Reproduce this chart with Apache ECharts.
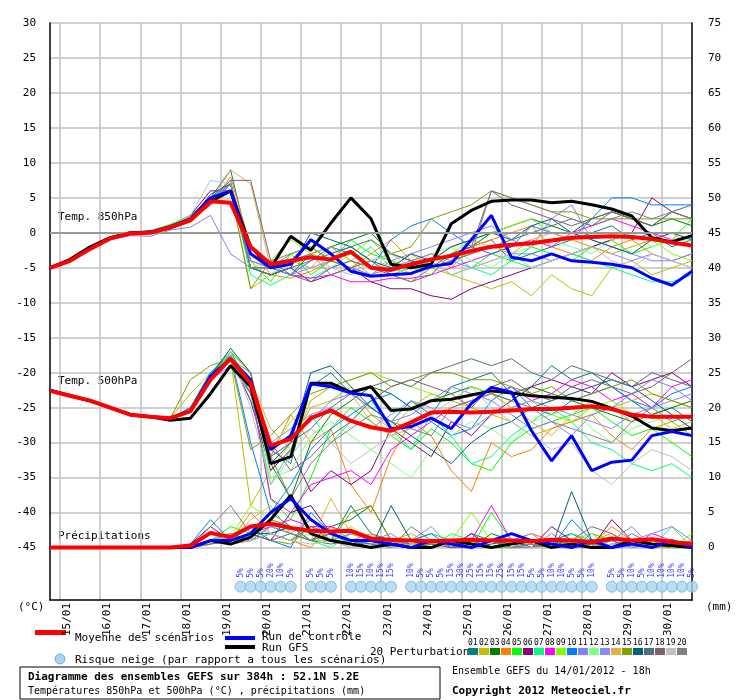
<!DOCTYPE html>
<html>
<head>
  <meta charset="utf-8">
</head>
<body style="margin:0;background:#fff">
  <div id="container" style="width:740px;height:700px"></div>
  <script src="https://cdn.jsdelivr.net/npm/echarts@6/dist/echarts.min.js"></script>
  <script>
    // 12h steps from 14/01 18h, 0..384h
    var hours = [];
    for (var h = 0; h <= 384; h += 12) hours.push(h);
    var dayHours = [6, 30, 54, 78, 102, 126, 150, 174, 198, 222, 246, 270, 294, 318, 342, 366];
    var dayLabels = ['15/01','16/01','17/01','18/01','19/01','20/01','21/01','22/01','23/01','24/01','25/01','26/01','27/01','28/01','29/01','30/01'];
    var labelHours = dayHours.map(function (v) { return v + 4; });
    var leftTicks = [-45,-40,-35,-30,-25,-20,-15,-10,-5,0,5,10,15,20,25,30];
    var rightTicks = [0,5,10,15,20,25,30,35,40,45,50,55,60,65,70,75];

    var pertColors = ['#008080','#c0c000','#008000','#ff8000','#00ff00','#800080','#00ff80','#ff00ff','#80ff00','#0080ff',
                      '#8080ff','#80ff80','#8888ff','#e0b040','#80a000','#006080','#507080','#806070','#c0c0c0','#808080'];

    var mean850 = [-5,-4,-2.3,-0.8,-0.1,0,0.8,1.8,4.5,4.3,-2, -4.5,-4,-3.5,-3.8,-2.7,-5,-5.3,-4.5,-3.8,-3.3,-2.6, -2,-1.7,-1.5,-1.1,-0.7,-0.6,-0.5,-0.6,-0.9,-1.4,-1.8];
    var ctrl850 = [-5,-4,-2.3,-0.8,-0.1,0.1,0.9,2,5,6,-3, -5,-4.5,-1,-3,-5.5,-6.2,-6,-5.8,-4.8,-4.4,-1, 2.5,-3.5,-4,-3,-4,-4.2,-4.5,-5,-6.5,-7.5,-5.5];
    var gfs850 = [-5,-3.8,-2,-0.7,0,0.1,0.7,1.8,4.5,6,-2, -5,-0.5,-2.5,1.4,5,2,-4.5,-5,-4.5,1.3,3.2, 4.5,4.7,4.7,4.3,4.5,4,3.4,2.4,-0.7,-1.3,-0.4];
    var pert850 = [
      [-5,-4,-2.2,-0.7,0,0.2,1,2.2,5,9,-3, -5,-4,-1,-3,-2,-4,-6,-5,-4,-3,-2, -1,-4,-3,-2,-1,0,1,-1,0,-2,-1],
      [-5,-4.1,-2.4,-0.9,-0.2,0,0.6,1.5,4,6,-8, -6,-4,-5,-2,-4,-6,-5,-3,-5,-6,-7, -8,-7,-9,-6,-8,-9,-5,-4,-6,-5,-4],
      [-5,-4,-2.3,-0.8,0,0.1,0.9,2,4.5,6,-5, -5,-6,-3,-2,-1,0,-3,-4,-5,-3,-2, 0,1,2,1,0,2,3,2,1,2,1],
      [-5,-3.9,-2.2,-0.8,-0.1,0,0.8,1.7,4,8,-2, -6,-6.5,-5.5,-4,-5,-3,-1,-4,-3,-5,-2, -1,0,1,-2,-3,-4,-2,-1,-3,-4,-3],
      [-5,-4,-2.3,-0.7,0,0.3,1.2,2.5,5,7,-4, -7,-3,-6,-4,-1,-3,-4,-5,-4,-6,-5, -3,-4,-2,-3,-4,-2,-1,-3,-2,-1,2],
      [-5,-4.1,-2.4,-0.8,-0.1,0.1,0.9,2.5,6,6,-5, -6,-5,-7,-6,-5,-7,-8,-8,-9,-9.5,-8, -7,-6,-5,-4,-3,-2,-1,0,5,3,2],
      [-5,-4,-2.2,-0.7,0,0.1,0.8,2,5,7,-6, -7.5,-6,-6.5,-5,-4,-2,-5,-6,-4,-3,-5, -6,-4,-5,-4,-3,-4,-5,-6,-7,-7,-6],
      [-5,-4,-2.3,-0.9,-0.2,0,0.7,1.9,4,7,-4, -5,-6,-6.5,-6,-7,-7,-6.5,-6.5,-6,-5,-4, -3,-2,-1,-2,0,1,2,1,0,-1,-0.5],
      [-5,-4,-2.2,-0.7,0.1,0.2,1,2.3,5,6,-5, -4,-1,-3,-4,-3,-1,-4,-5,-6,-3,-1, 0,1,2,0,-1,-2,-3,-2,-1,-3,-4],
      [-5,-4,-2.3,-0.8,0,0.1,0.8,2,4.5,7,-3, -5,-6,-4,-2,-3,-5,-1,1,2,0,-2, -3,-2,1,0,-1,2,5,5,4,4,4],
      [-5,-4,-2.4,-1,-0.4,-0.5,0.4,0.8,2.5,-3,-5, -5,-3,-2,-4,-5,-6,-4,-3,-2,-1,0, 1,-1,-2,2,4,-1,-2,-3,-4,-4,-3],
      [-5,-4,-2.3,-0.8,0,0.1,0.9,2.1,5,6,-5, -6,-4,-3,-5,-3,-4,-6,-5,-3,-2,-4, -5,-3,-2,-1,-2,-3,-1,0,-2,-1,-1],
      [-5,-4,-2.3,-0.8,0,0.1,0.8,2,4.5,7,-4, -5,-6,-5,-4,-5,-6,-5,-4,-3,-4,-5, -4,-3,-3,-4,-3,-2,-3,-4,-3,-4,-5],
      [-5,-4,-2.2,-0.7,0,0.2,1,2.3,4.5,9,7, -5,-4,-3,-2,-4,-5,-4,-6,-4,-2,-1, -2,-3,-1,0,-1,-2,-3,-2,-1,0,-2],
      [-5,-4,-2.3,-0.8,0,0.1,0.9,2.2,5,6,-8, -4,-3,-2,-4,-5,-4,-3,-2,2,3,4, 6,5,4,3,3,2,2,2,2,2,2],
      [-5,-4,-2.3,-0.8,0,0.1,0.8,2,5.5,7,-5, -6,-5,0,-1,-2,-4,-5,-3,-4,-2,-1, 0,-1,1,2,0,-1,-2,-3,-1,0,-1],
      [-5,-4,-2.3,-0.8,0,0.1,0.8,1.9,5,6,-5, -6,-5,-4,-3,-2,-1,-3,-4,-5,-4,-3, -2,-1,0,1,2,1,3,2,1,3,4],
      [-5,-4,-2.3,-0.8,0,0.1,0.8,2,5,7.5,7.5, -4,-6,-7,-5,-4,-5,-6,-7,-6,-3,-2, 6,4,3,2,1,2,3,2,1,3,2],
      [-5,-4,-2.3,-0.7,0,0.2,1,2.5,7.5,7,-2, -5,-4,-3,-5,-6,-4,-3,-5,-4,-6,-5, -4,-3,-5,-4,-3,-2,-4,-5,-3,-4,-5],
      [-5,-4,-2.3,-0.8,0,0.1,0.9,2,4.5,7.5,-5, -5,-4,-3,-6,-5,-4,-6,-7,-5,-4,-3, 6,5,4,3,2,1,2,3,2,3,2]
    ];

    var mean500 = [-22.6,-23.3,-24,-25,-26,-26.3,-26.5,-25.5,-21,-18,-21.5, -30.4,-29.5,-26.5,-25.4,-26.9,-27.8,-28.3,-27.1,-25.7,-25.6,-25.7, -25.6,-25.4,-25.2,-25.2,-25,-24.8,-25.2,-26,-26.3,-26.3,-26.3];
    var ctrl500 = [-22.5,-23.3,-24,-25,-26,-26.3,-26.5,-25.5,-20.5,-18,-21, -31,-29,-21.6,-22,-22.9,-23.3,-28,-27.7,-26.5,-28,-24.4, -22.1,-22.8,-28.3,-32.6,-29,-34,-32.8,-32.5,-29,-28.4,-29];
    var gfs500 = [-22.5,-23.3,-24,-25,-26,-26.3,-26.8,-26.5,-23,-19,-22, -33,-32,-21.5,-21.5,-22.8,-22,-25.4,-25.2,-24,-23.8,-23.2, -22.6,-22.9,-23.3,-23.5,-23.7,-24.1,-25.1,-26.2,-27.9,-28.3,-27.9];
    var pert500 = [
      [-22.5,-23.3,-24,-25,-26,-26.3,-26.5,-25,-20,-17,-22, -31,-33,-22,-20,-23,-25,-27,-24,-26,-22,-21, -20,-23,-22,-19,-21,-20,-22,-24,-26,-25,-27],
      [-22.5,-23.3,-24,-25,-26,-26.3,-26.5,-23,-20,-18,-39, -34,-30,-25,-24,-22,-26,-28,-25,-23,-24,-25, -26,-27,-29,-28,-27,-26,-25,-24,-23,-24,-25],
      [-22.5,-23.3,-24,-25,-26,-26.3,-26.5,-25.5,-21,-17,-20, -33,-38,-30,-26,-24,-22,-23,-25,-24,-23,-22, -23,-24,-22,-23,-24,-25,-26,-27,-26,-25,-24],
      [-22.5,-23.3,-24,-25,-26,-26.3,-26.4,-25.3,-21,-18,-22, -32,-26,-30,-28,-36,-40,-32,-27,-29,-34,-37, -30,-32,-31,-28,-27,-26,-29,-31,-28,-27,-29],
      [-22.5,-23.3,-24,-25,-26,-26.3,-26.5,-25.6,-20.5,-17.5,-22, -38,-41,-35,-28,-25,-27,-29,-31,-28,-30,-33, -34,-30,-28,-27,-26,-25,-27,-29,-28,-30,-32],
      [-22.5,-23.3,-24,-25,-26,-26.3,-26.5,-25.5,-21,-18,-24, -34,-31,-37,-34,-36,-34,-28,-30,-32,-27,-29, -26,-24,-22,-21,-22,-23,-20,-22,-21,-20,-22],
      [-22.5,-23.3,-24,-25,-26,-26.3,-26.5,-25.5,-20,-17,-23, -36,-31,-26,-30,-27,-24,-28,-31,-26,-29,-33, -32,-29,-27,-25,-27,-30,-31,-33,-34,-33,-35],
      [-22.5,-23.3,-24,-25,-26,-26.3,-26.5,-25.5,-21,-18,-22, -38,-40,-36,-35,-34,-36,-31,-29,-27,-25,-24, -23,-22,-24,-23,-21,-22,-24,-23,-25,-22,-21],
      [-22.5,-23.3,-24,-25,-26,-26.3,-26.5,-25.5,-20.5,-17,-20, -31,-27,-24,-22,-21,-20,-21,-22,-23,-24,-22, -23,-25,-24,-26,-27,-25,-24,-26,-28,-27,-29],
      [-22.5,-23.3,-24,-25,-26,-26.3,-26.5,-25,-20,-17.5,-30, -40,-36,-31,-28,-26,-24,-23,-25,-27,-29,-28, -24,-22,-25,-26,-24,-23,-22,-24,-25,-23,-22],
      [-22.5,-23.3,-24,-25,-26,-26.3,-26.5,-25.3,-21,-19,-23, -31,-29,-27,-24,-23,-25,-27,-26,-24,-22,-23, -24,-26,-28,-27,-29,-26,-25,-23,-21,-22,-24],
      [-22.5,-23.3,-24,-25,-26,-26.3,-26.5,-25.5,-21,-18,-21, -35,-34,-29,-27,-29,-31,-33,-35,-31,-29,-27, -28,-30,-27,-26,-25,-28,-30,-28,-27,-26,-28],
      [-22.5,-23.3,-24,-25,-26,-26.3,-26.5,-25.5,-21,-18,-22, -30,-28,-26,-25,-27,-28,-26,-24,-25,-27,-28, -26,-25,-24,-25,-26,-27,-28,-26,-25,-24,-23],
      [-22.5,-23.3,-24,-25,-26,-26.3,-26.5,-25.5,-21,-18,-21, -28,-31,-24,-22,-23,-27,-29,-28,-26,-25,-24, -23,-25,-27,-29,-26,-24,-25,-27,-26,-28,-27],
      [-22.5,-23.3,-24,-25,-26,-26.3,-26.5,-21,-19,-18,-31, -29,-26,-23,-22,-21,-20,-22,-21,-20,-20,-21, -21,-22,-23,-22,-24,-23,-22,-21,-23,-24,-25],
      [-22.5,-23.3,-24,-25,-26,-26.3,-26.5,-25.5,-20.5,-16.5,-20, -33,-30,-20,-19,-22,-25,-27,-29,-31,-33,-30, -28,-27,-25,-24,-23,-22,-21,-22,-24,-26,-28],
      [-22.5,-23.3,-24,-25,-26,-26.3,-26.5,-25.5,-21,-18,-23, -32,-30,-28,-25,-23,-22,-21,-22,-20,-19,-18, -19,-18,-20,-21,-19,-20,-21,-22,-20,-21,-22],
      [-22.5,-23.3,-24,-25,-26,-26.3,-26.5,-25.5,-21,-18,-21, -30,-34,-32,-29,-27,-24,-22,-21,-22,-23,-25, -22,-21,-23,-24,-22,-21,-22,-23,-22,-20,-18],
      [-22.5,-23.3,-24,-25,-26,-26.3,-26.5,-25.5,-21,-17,-25, -36,-32,-28,-30,-33,-31,-29,-27,-26,-24,-22, -25,-27,-29,-31,-30,-34,-36,-33,-31,-32,-34],
      [-22.5,-23.3,-24,-25,-26,-26.3,-26.5,-25.5,-21,-18,-20, -32,-38,-33,-30,-28,-26,-27,-28,-29,-25,-24, -23,-24,-25,-27,-28,-29,-30,-27,-25,-27,-26]
    ];

    var meanPrecip = [0,0,0,0,0,0,0,0.3,2.1,1.5,3, 3.4,2.8,2.4,2.3,2.4,1.3,1.1,1,0.9,1,1.1, 1,1,0.9,1.1,1,0.8,1.3,1,1.2,0.8,0.5];
    var ctrlPrecip = [0,0,0,0,0,0,0,0,1,1,2, 5,7,4,2,1,1,0.5,0,1,0.5,0, 1,2,1,0.5,0,1,0,0.5,0,1,0];
    var gfsPrecip = [0,0,0,0,0,0,0,0,1,0.5,1.5, 4,7.5,2,1,0.5,0,0.5,0,0,1,0.5, 0,0.5,1,0,0.5,0,0,1,0.5,0.3,0];
    var pertPrecip = [
      [0,0,0,0,0,0,0,0,1,0.5,2, 5,3,2,1,6,2,1,0.5,1,0,2, 1,0.5,0,1,2,0.5,0,1,0,0.5,0],
      [0,0,0,0,0,0,0,0,0.5,1,3, 2,1,4,2,1,0,1,2,0.5,1,0, 0,1,0.5,0,0,1,2,0.5,0,0,1],
      [0,0,0,0,0,0,0,0.2,1,2,1, 3,2,1,3,4,6,1,0,1,0.5,0, 2,1,0,0.5,1,0,0,1,0.5,0,0],
      [0,0,0,0,0,0,0,0,2,1,5, 2,1,0,3,1,2,0.5,1,0,1,0.5, 0,1,2,1,0,0.5,3,1,0,0.5,1],
      [0,0,0,0,0,0,0,0,1,3,2, 4,7,2,1,2,1,0,1,2,1,0, 5,1,0,1,0,2,1,0,0.5,1,0],
      [0,0,0,0,0,0,0,0.5,3,1,2, 1,5,6,2,1,0.5,1,0,1,0,2, 0,1,0,3,1,0,4,1,0,0.5,0],
      [0,0,0,0,0,0,0,0,1,2,1, 3,2,1,0,2,1,0,1,0,2,1, 0,0,1,0,2,1,0,1,0,3,0],
      [0,0,0,0,0,0,0,0,0.5,1,2, 3,4,3,3,2,1,0,1,0.5,0,1, 6,1,0,1,0,0.5,1,0,2,1,0],
      [0,0,0,0,0,0,0,0,1,1.5,6, 4,2,1,1,3,1,0,0.5,0,1,5, 1,0,0,1,0,1,0,0.5,1,0,2],
      [0,0,0,0,0,0,0,0.5,4,1,3, 1,0,5,2,1,0.5,0,1,2,0,1, 0,0.5,1,0,4,1,0,0.5,1,0,0],
      [0,0,0,0,0,0,0,0,1,0.5,1, 2,3,2,1,0,1,2,0,1,0.5,0, 1,0,0,2,0,0,1,3,0,1,0.5],
      [0,0,0,0,0,0,0,0,0.5,2,3, 2,1,2,1,1,0,1,0,0.5,0,1, 0,1,0,0,1,0,0.5,0,1,0,0],
      [0,0,0,0,0,0,0,0,1,2,1, 3,2,4,1,2,1,0,1,3,0,1, 0,1,2,0,1,0,0.5,1,2,3,1],
      [0,0,0,0,0,0,0,0,0.5,1,4, 6,2,1,7,2,1,0,0.5,1,0,0, 1,0,0.5,0,1,2,0,1,0,0.5,0],
      [0,0,0,0,0,0,0,0,1,0.5,2, 1,0.5,3,1,5,6,1,0,1,0,0.5, 0,1,0,0.5,0,1,0,1,0.5,0,0],
      [0,0,0,0,0,0,0,0,1,1,2, 2,3,1,2,1,0,6,1,0,1,0, 0.5,1,0,0,8,1,0,1,0.5,0,0],
      [0,0,0,0,0,0,0,0,0.5,1,2, 1,2,1,0.5,1,0,1,0,0.5,0,1, 0,0.5,0,1,0,0.5,1,0,0.5,1,0],
      [0,0,0,0,0,0,0,0,1,0.5,1, 2,1,3,2,1,0,0.5,0,1,0,0, 1,0,0.5,0,1,3,2,0,1,0.5,0],
      [0,0,0,0,0,0,0,0,1,0.5,1, 2,1,0.5,1,0,0.5,1,0,0,0.5,0, 0,0.5,0,0,1,0,0.5,0,1,0,0.5],
      [0,0,0,0,0,0,0,0,3,6,2, 4,3,1,2,0.5,1,0,3,1,0.5,0, 1,0,0.5,0,1,0.5,0,2,0.5,1,0]
    ];

    var snowHours = [114,120,126,132,138,144, 156,162,168, 180,186,192,198,204,
                     216,222,228,234,240,246,252,258,264,270,276,282,288,294,300,306,312,318,324,
                     336,342,348,354,360,366,372,378,384];
    var snowPct = [5,5,5,20,10,5, 5,5,5, 10,15,10,15,15,
                   10,5,5,5,15,30,25,15,15,25,15,15,5,5,10,10,5,5,10,
                   5,5,10,5,10,10,10,10,5];

    var FONT = 'DejaVu Sans Mono';
    function pts(arr) { return arr.map(function (v, i) { return [hours[i], v]; }); }

    var series = [];
    function addGroup(pert, ctrl, gfs, mean, axis) {
      pert.forEach(function (arr, k) {
        series.push({ type: 'line', yAxisIndex: axis, data: pts(arr), symbol: 'path://M0,5L10,5M5,0L5,10', symbolSize: 4,
          itemStyle: { color: pertColors[k] }, lineStyle: { width: 1, color: pertColors[k] }, silent: true, z: 2 });
      });
      series.push({ type: 'line', yAxisIndex: axis, data: pts(gfs), symbol: 'none', lineStyle: { width: 3, color: '#000' }, z: 3 });
      series.push({ type: 'line', yAxisIndex: axis, data: pts(ctrl), symbol: 'none', lineStyle: { width: 3, color: '#0000ff' }, z: 4 });
      series.push({ type: 'line', yAxisIndex: axis, data: pts(mean), symbol: 'none', lineStyle: { width: 4, color: '#ff0000' }, z: 5 });
    }
    addGroup(pert850, ctrl850, gfs850, mean850, 0);
    addGroup(pert500, ctrl500, gfs500, mean500, 0);
    addGroup(pertPrecip, ctrlPrecip, gfsPrecip, meanPrecip, 1);

    // zero line
    series.push({ type: 'line', data: [], markLine: { silent: true, symbol: 'none', label: { show: false },
      lineStyle: { color: '#999', width: 2, type: 'solid' }, data: [{ yAxis: 0 }] }, z: 1 });

    series.push({
      type: 'scatter', yAxisIndex: 0, z: 6,
      data: snowHours.map(function (hh, i) { return [hh, -50.6, snowPct[i]]; }),
      symbol: 'circle', symbolSize: 11,
      itemStyle: { color: '#a8d4f0', borderColor: '#70b0e0', borderWidth: 1 },
      label: { show: true, position: 'top', distance: 3, rotate: 90, align: 'left', verticalAlign: 'middle',
        fontFamily: FONT, fontSize: 8, color: '#0000ff',
        formatter: function (p) { return p.value[2] + '%'; } }
    });

    var legendItems = [];
    pertColors.forEach(function (c, k) {
      var x = 468 + k * 11;
      legendItems.push({ type: 'rect', shape: { x: x, y: 648, width: 10, height: 7 }, style: { fill: c } });
      legendItems.push({ type: 'text', x: x, y: 639, style: { text: (k < 9 ? '0' : '') + (k + 1), font: '8px ' + FONT, fill: '#000' } });
    });

    var txt = function (x, y, s, font) { return { type: 'text', x: x, y: y, style: { text: s, font: font || ('11px ' + FONT), fill: '#000', textVerticalAlign: 'middle' } }; };
    var graphics = [
      txt(58, 217, 'Temp. 850hPa'),
      txt(58, 381, 'Temp. 500hPa'),
      txt(58, 536, 'Précipitations'),
      txt(18, 607, '(°C)'),
      txt(706, 607, '(mm)'),
      { type: 'rect', shape: { x: 35, y: 630, width: 31, height: 5 }, style: { fill: '#ff0000' } },
      txt(75, 638, 'Moyenne des scénarios'),
      { type: 'rect', shape: { x: 225, y: 636, width: 30, height: 4 }, style: { fill: '#0000ff' } },
      txt(262, 637, 'Run de contrôle'),
      { type: 'rect', shape: { x: 225, y: 645, width: 30, height: 4 }, style: { fill: '#000' } },
      txt(262, 648, 'Run GFS'),
      { type: 'circle', shape: { cx: 60, cy: 659, r: 5 }, style: { fill: '#a8d4f0', stroke: '#70b0e0' } },
      txt(75, 660, 'Risque neige (par rapport a tous les scénarios)'),
      txt(370, 652, '20 Perturbations'),
      { type: 'rect', shape: { x: 20, y: 667, width: 420, height: 32 }, style: { fill: 'none', stroke: '#000', lineWidth: 1 } },
      txt(28, 677, 'Diagramme des ensembles GEFS sur 384h : 52.1N 5.2E', 'bold 11px ' + FONT),
      txt(28, 691, 'Températures 850hPa et 500hPa (°C) , précipitations (mm)', '10px ' + FONT),
      txt(452, 671, 'Ensemble GEFS du 14/01/2012 - 18h', '10px ' + FONT),
      txt(452, 691, 'Copyright 2012 Meteociel.fr', 'bold 11px ' + FONT)
    ].concat(legendItems);

    var chart = echarts.init(document.getElementById('container'), null, { renderer: 'canvas' });
    chart.setOption({
      animation: false,
      backgroundColor: '#fff',
      grid: { left: 50, right: 48, top: 23, bottom: 100 },
      xAxis: {
        type: 'value', min: 0, max: 384,
        axisLine: { show: true, onZero: false, lineStyle: { color: '#000', width: 1.5 } },
        axisTick: { show: false, customValues: dayHours },
        splitLine: { show: true, lineStyle: { color: '#c0c0c0', width: 1.5 } },
        axisLabel: { customValues: labelHours, rotate: 90, fontFamily: FONT, fontSize: 11, color: '#000', margin: 3,
          formatter: function (v) { return dayLabels[labelHours.indexOf(v)]; } }
      },
      yAxis: [
        { type: 'value', min: -52.5, max: 30,
          axisLine: { show: true, lineStyle: { color: '#000', width: 1.5 } },
          axisTick: { show: false, customValues: leftTicks },
          splitLine: { show: true, lineStyle: { color: '#c0c0c0', width: 1.5 } },
          axisLabel: { customValues: leftTicks, fontFamily: FONT, fontSize: 11, color: '#000', margin: 14 } },
        { type: 'value', min: -7.5, max: 75, position: 'right',
          axisLine: { show: true, lineStyle: { color: '#000', width: 1.5 } },
          axisTick: { show: false, customValues: rightTicks },
          splitLine: { show: false },
          axisLabel: { customValues: rightTicks, fontFamily: FONT, fontSize: 11, color: '#000', margin: 16 } }
      ],
      series: series,
      graphic: graphics
    });
  </script>
</body>
</html>
